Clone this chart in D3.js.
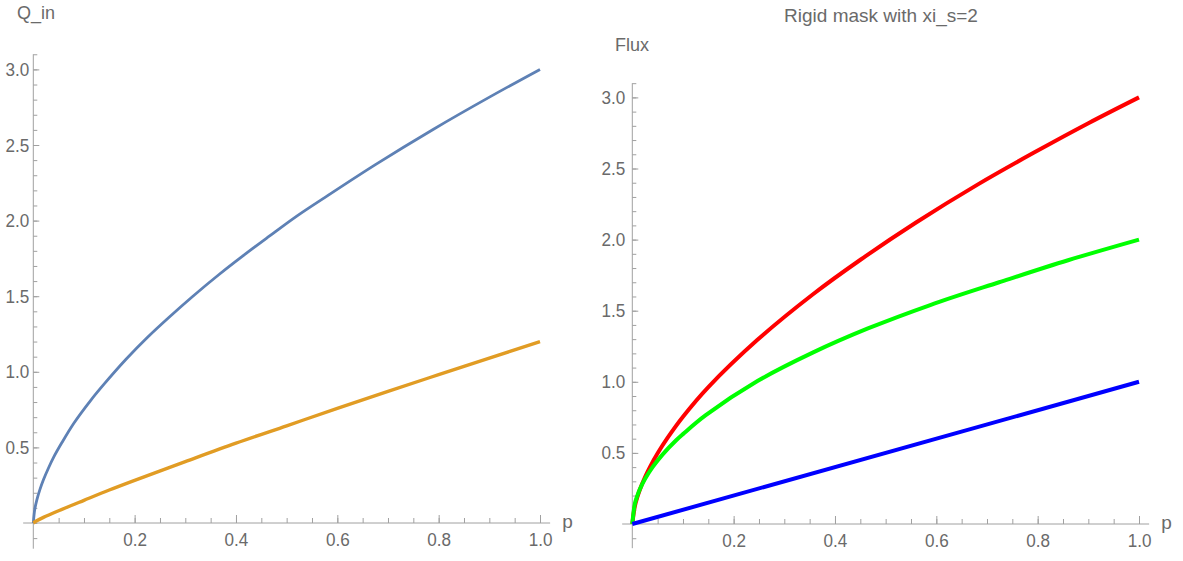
<!DOCTYPE html>
<html>
<head>
<meta charset="utf-8">
<script src="https://cdn.jsdelivr.net/npm/d3@7"></script>
<style>
  body { margin: 0; background: #fff; }
  svg text { font-family: "Liberation Sans", Arial, sans-serif; fill: #6a6a6a; }
  .axis path.domain { display: none; }
  .axis line, .axisLine { stroke: #a0a0a0; stroke-width: 1; }
</style>
</head>
<body>
<div id="chart"></div>
<script>
// values
const pLeftBlue = [0, 0.003, 0.007, 0.013, 0.02, 0.03, 0.04, 0.0565, 0.08, 0.113, 0.14, 0.183, 0.225, 0.268, 0.315, 0.366, 0.415, 0.465, 0.52, 0.578, 0.676, 0.789, 0.902, 1.0];
const qinBlue   = [0, 0.092, 0.153, 0.221, 0.286, 0.364, 0.434, 0.532, 0.66, 0.81, 0.92, 1.083, 1.227, 1.361, 1.5, 1.642, 1.77, 1.895, 2.03, 2.159, 2.372, 2.603, 2.82, 3.0];

const pLeftOrange = [0, 0.005, 0.02, 0.05, 0.1, 0.15, 0.2, 0.3, 0.4, 0.5, 0.6, 0.7, 0.8, 0.9, 1.0];
const qinOrange   = [0, 0.011, 0.037, 0.081, 0.15, 0.218, 0.282, 0.406, 0.528, 0.643, 0.758, 0.871, 0.981, 1.09, 1.2];

const pRed    = [0, 0.005, 0.01, 0.015, 0.025, 0.035, 0.05, 0.0695, 0.1, 0.151, 0.247, 0.356, 0.451, 0.560, 0.683, 0.792, 0.901, 1.0];
const fluxRed = [0, 0.125, 0.19, 0.243, 0.329, 0.402, 0.497, 0.605, 0.754, 0.966, 1.295, 1.614, 1.86, 2.12, 2.39, 2.61, 2.82, 3.0];

const pGreen    = [0, 0.005, 0.01, 0.015, 0.025, 0.04, 0.06, 0.0866, 0.1, 0.145, 0.247, 0.356, 0.465, 0.588, 0.724, 0.860, 1.0];
const fluxGreen = [0, 0.141, 0.20, 0.245, 0.316, 0.40, 0.49, 0.589, 0.632, 0.765, 1.005, 1.205, 1.375, 1.54, 1.70, 1.855, 2.0];

const pBlue    = [0, 1.0];
const fluxBlue = [0, 1.0];

const xMajor = [0.2, 0.4, 0.6, 0.8, 1.0];
const yMajor = [0.5, 1.0, 1.5, 2.0, 2.5, 3.0];

const toPoints = (xs, ys) => xs.map((x, i) => ({ x, y: ys[i] }));

const svg = d3.select("#chart").append("svg")
  .attr("width", 1183)
  .attr("height", 561);

// squeeze tick numbers a little, Mathematica's font is narrow
const squeeze = 0.9;

/**
 * One Mathematica-style panel with axes crossing at the origin
 */
function drawPanel(props) {
  const x = d3.scaleLinear().domain([0, 1]).range([props.x0, props.x1]);
  const y = d3.scaleLinear().domain([0, 3]).range([props.y0, props.y3]);

  const g = svg.append("g");

  const xMinor = d3.range(1, 21).map(i => i * 0.05);
  const yMinor = d3.range(-1, 32).map(i => i * 0.1);

  // axis lines, a little past the data range like Mathematica
  g.append("line").attr("class", "axisLine")
    .attr("x1", x(-0.02)).attr("x2", x(1.02))
    .attr("y1", y(0)).attr("y2", y(0));
  g.append("line").attr("class", "axisLine")
    .attr("x1", x(0)).attr("x2", x(0))
    .attr("y1", y(-0.17)).attr("y2", y(3.1));

  // minor ticks
  g.append("g").attr("class", "axis")
    .attr("transform", `translate(0,${y(0)})`)
    .call(d3.axisBottom(x).tickValues(xMinor).tickSize(-5).tickFormat(""));
  g.append("g").attr("class", "axis")
    .attr("transform", `translate(${x(0)},0)`)
    .call(d3.axisLeft(y).tickValues(yMinor).tickSize(-4).tickFormat(""));

  // major ticks with labels
  const xa = g.append("g").attr("class", "axis")
    .attr("transform", `translate(0,${y(0)})`)
    .call(d3.axisBottom(x).tickValues(xMajor).tickSize(-8).tickPadding(10).tickFormat(d3.format(".1f")));
  xa.selectAll("text")
    .attr("fill", null)
    .style("font-size", "19px")
    .attr("transform", `scale(${squeeze},1)`);

  const ya = g.append("g").attr("class", "axis")
    .attr("transform", `translate(${x(0)},0)`)
    .call(d3.axisLeft(y).tickValues(yMajor).tickSize(-6).tickPadding(props.yPad).tickFormat(d3.format(".1f")));
  ya.selectAll("text")
    .attr("fill", null)
    .style("font-size", "19px")
    .attr("x", -props.yPad / squeeze)
    .attr("transform", `scale(${squeeze},1)`);

  // axis labels
  g.append("text")
    .attr("x", x(1.02) + 12)
    .attr("y", y(0) + 5)
    .style("font-size", "19px")
    .text("p");

  g.append("text")
    .attr("x", props.yLabelX)
    .attr("y", props.yLabelY)
    .style("font-size", "18px")
    .text(props.yLabel);

  if (props.title) {
    g.append("text")
      .attr("x", props.titleX)
      .attr("y", 22)
      .style("text-anchor", "middle")
      .style("font-size", "19px")
      .text(props.title);
  }

  const line = d3.line()
    .x(d => x(d.x))
    .y(d => y(d.y))
    .curve(d3.curveCatmullRom.alpha(0.5));

  props.series.forEach(s => {
    g.append("path")
      .datum(s.data)
      .attr("fill", "none")
      .attr("stroke", s.color)
      .attr("stroke-width", s.width)
      .attr("stroke-linejoin", "round")
      .attr("d", line);
  });
}

drawPanel({
  x0: 33.3, x1: 540, y0: 523, y3: 69.4,
  yPad: 4,
  yLabel: "Q_in", yLabelX: 17, yLabelY: 19,
  series: [
    { data: toPoints(pLeftBlue, qinBlue), color: "#5e81b5", width: 2.8 },
    { data: toPoints(pLeftOrange, qinOrange), color: "#e19c24", width: 3.4 }
  ]
});

drawPanel({
  x0: 632.3, x1: 1139, y0: 524, y3: 97.4,
  yPad: 7,
  yLabel: "Flux", yLabelX: 615, yLabelY: 51,
  title: "Rigid mask with xi_s=2", titleX: 881,
  series: [
    { data: toPoints(pRed, fluxRed), color: "#ff0000", width: 4 },
    { data: toPoints(pGreen, fluxGreen), color: "#00ff00", width: 4 },
    { data: toPoints(pBlue, fluxBlue), color: "#0000ff", width: 4 }
  ]
});
</script>
</body>
</html>
